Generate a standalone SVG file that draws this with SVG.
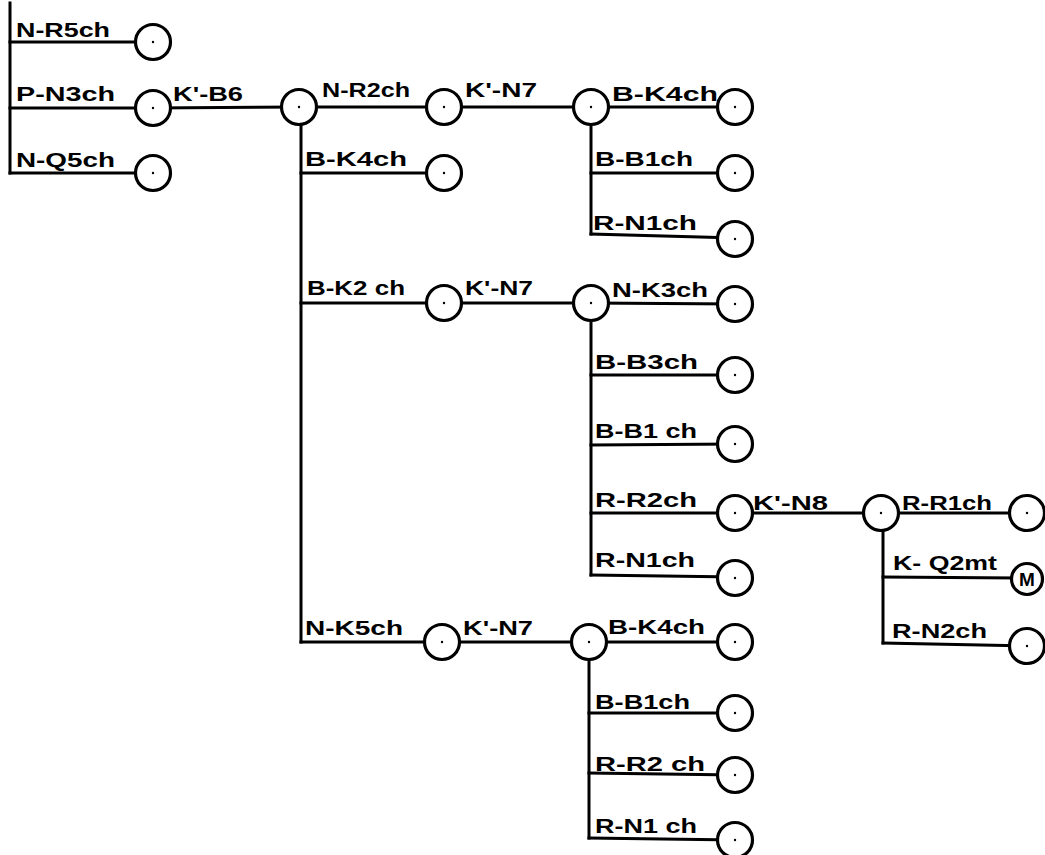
<svg xmlns="http://www.w3.org/2000/svg" xmlns:xlink="http://www.w3.org/1999/xlink" width="1045" height="855" viewBox="0 0 1045 855">
  <style>
    .ln { stroke: #000; stroke-width: 3; fill: none; stroke-linecap: square; }
    .nd { fill: #fff; stroke: #000; stroke-width: 3.2; }
    .dot { fill: #000; }
    .lb { font-family: "Liberation Sans", Arial, sans-serif; font-weight: bold; font-size: 20px; fill: #000; }
    .m { font-family: "Liberation Sans", Arial, sans-serif; font-weight: bold; font-size: 19px; fill: #000; text-anchor: middle; }
  </style>
  <defs>
    <!-- a position: open circle with a centre point -->
    <g id="pos">
      <circle class="nd" cx="0" cy="0" r="17.5"/>
      <circle class="dot" cx="0" cy="0" r="1.2"/>
    </g>
  </defs>
  <rect width="1045" height="855" fill="#fff"/>

  <!-- connectors: move lines -->
  <g id="connectors">
    <!-- root -->
    <line class="ln" x1="10" y1="3" x2="10" y2="173"/>
    <line class="ln" x1="10" y1="42" x2="153" y2="42"/>
    <line class="ln" x1="10" y1="108" x2="153" y2="108"/>
    <line class="ln" x1="10" y1="173" x2="153" y2="173"/>
    <line class="ln" x1="153" y1="108" x2="299" y2="107"/>
    <!-- after K'-B6 -->
    <line class="ln" x1="301" y1="107" x2="301" y2="642"/>
    <line class="ln" x1="299" y1="107" x2="444" y2="107"/>
    <line class="ln" x1="444" y1="107" x2="591" y2="107"/>
    <line class="ln" x1="301" y1="173" x2="444" y2="173"/>
    <line class="ln" x1="301" y1="303" x2="444" y2="303"/>
    <line class="ln" x1="444" y1="303" x2="591" y2="303"/>
    <line class="ln" x1="301" y1="642" x2="442" y2="642"/>
    <line class="ln" x1="442" y1="642" x2="589" y2="642"/>
    <!-- first K'-N7 -->
    <line class="ln" x1="591" y1="107" x2="591" y2="234"/>
    <line class="ln" x1="591" y1="107" x2="735" y2="107"/>
    <line class="ln" x1="591" y1="173" x2="735" y2="173"/>
    <line class="ln" x1="591" y1="234" x2="735" y2="238"/>
    <!-- second K'-N7 -->
    <line class="ln" x1="591" y1="303" x2="591" y2="575"/>
    <line class="ln" x1="591" y1="303" x2="735" y2="304"/>
    <line class="ln" x1="591" y1="375" x2="735" y2="375"/>
    <line class="ln" x1="591" y1="445" x2="735" y2="444"/>
    <line class="ln" x1="591" y1="513" x2="735" y2="513"/>
    <line class="ln" x1="591" y1="575" x2="735" y2="577"/>
    <line class="ln" x1="735" y1="513" x2="881" y2="513"/>
    <!-- K'-N8 -->
    <line class="ln" x1="883" y1="513" x2="883" y2="643"/>
    <line class="ln" x1="881" y1="513" x2="1028" y2="513"/>
    <line class="ln" x1="883" y1="577" x2="1027" y2="578"/>
    <line class="ln" x1="883" y1="643" x2="1028" y2="646"/>
    <!-- third K'-N7 -->
    <line class="ln" x1="589" y1="642" x2="589" y2="838"/>
    <line class="ln" x1="589" y1="642" x2="735" y2="642"/>
    <line class="ln" x1="589" y1="713" x2="735" y2="713"/>
    <line class="ln" x1="589" y1="773" x2="735" y2="775"/>
    <line class="ln" x1="589" y1="838" x2="735" y2="840"/>
  </g>

  <!-- move labels -->
  <g id="labels" class="lb">
    <text x="16" y="37" textLength="94" lengthAdjust="spacingAndGlyphs">N-R5ch</text>
    <text x="16" y="101" textLength="99" lengthAdjust="spacingAndGlyphs">P-N3ch</text>
    <text x="173" y="101" textLength="70" lengthAdjust="spacingAndGlyphs">K'-B6</text>
    <text x="16" y="167" textLength="99" lengthAdjust="spacingAndGlyphs">N-Q5ch</text>
    <text x="322" y="97" textLength="88" lengthAdjust="spacingAndGlyphs">N-R2ch</text>
    <text x="465" y="97" textLength="72" lengthAdjust="spacingAndGlyphs">K'-N7</text>
    <text x="305" y="166" textLength="102" lengthAdjust="spacingAndGlyphs">B-K4ch</text>
    <text x="307" y="295" textLength="98" lengthAdjust="spacingAndGlyphs">B-K2 ch</text>
    <text x="465" y="295" textLength="68" lengthAdjust="spacingAndGlyphs">K'-N7</text>
    <text x="305" y="635" textLength="98" lengthAdjust="spacingAndGlyphs">N-K5ch</text>
    <text x="463" y="635" textLength="70" lengthAdjust="spacingAndGlyphs">K'-N7</text>
    <text x="612" y="101" textLength="106" lengthAdjust="spacingAndGlyphs">B-K4ch</text>
    <text x="595" y="166" textLength="98" lengthAdjust="spacingAndGlyphs">B-B1ch</text>
    <text x="593" y="230" textLength="104" lengthAdjust="spacingAndGlyphs">R-N1ch</text>
    <text x="612" y="297" textLength="96" lengthAdjust="spacingAndGlyphs">N-K3ch</text>
    <text x="595" y="369" textLength="103" lengthAdjust="spacingAndGlyphs">B-B3ch</text>
    <text x="595" y="438" textLength="102" lengthAdjust="spacingAndGlyphs">B-B1 ch</text>
    <text x="595" y="507" textLength="102" lengthAdjust="spacingAndGlyphs">R-R2ch</text>
    <text x="595" y="567" textLength="100" lengthAdjust="spacingAndGlyphs">R-N1ch</text>
    <text x="753" y="510" textLength="75" lengthAdjust="spacingAndGlyphs">K'-N8</text>
    <text x="902" y="510" textLength="90" lengthAdjust="spacingAndGlyphs">R-R1ch</text>
    <text x="893" y="570" textLength="104" lengthAdjust="spacingAndGlyphs">K- Q2mt</text>
    <text x="892" y="638" textLength="95" lengthAdjust="spacingAndGlyphs">R-N2ch</text>
    <text x="608" y="634" textLength="97" lengthAdjust="spacingAndGlyphs">B-K4ch</text>
    <text x="595" y="709" textLength="95" lengthAdjust="spacingAndGlyphs">B-B1ch</text>
    <text x="595" y="771" textLength="110" lengthAdjust="spacingAndGlyphs">R-R2 ch</text>
    <text x="595" y="833" textLength="102" lengthAdjust="spacingAndGlyphs">R-N1 ch</text>
  </g>

  <!-- positions -->
  <use id="n-r5" href="#pos" x="153" y="42"/>
  <use id="p-n3" href="#pos" x="153" y="108"/>
  <use id="n-q5" href="#pos" x="153" y="173"/>
  <use id="k-b6" href="#pos" x="299" y="107"/>
  <use id="n-r2" href="#pos" x="444" y="107"/>
  <use id="b-k4-a" href="#pos" x="444" y="173"/>
  <use id="b-k2" href="#pos" x="444" y="303"/>
  <use id="n-k5" href="#pos" x="442" y="642"/>
  <use id="k-n7-a" href="#pos" x="591" y="107"/>
  <use id="k-n7-b" href="#pos" x="591" y="303"/>
  <use id="k-n7-c" href="#pos" x="589" y="642"/>
  <use id="b-k4-b" href="#pos" x="735" y="107"/>
  <use id="b-b1-a" href="#pos" x="735" y="173"/>
  <use id="r-n1-a" href="#pos" x="735" y="239"/>
  <use id="n-k3" href="#pos" x="735" y="304"/>
  <use id="b-b3" href="#pos" x="735" y="375"/>
  <use id="b-b1-b" href="#pos" x="735" y="444"/>
  <use id="r-r2-a" href="#pos" x="735" y="513"/>
  <use id="r-n1-b" href="#pos" x="735" y="578"/>
  <use id="k-n8" href="#pos" x="881" y="513"/>
  <use id="r-r1" href="#pos" x="1027" y="513"/>
  <g id="k-q2-mate">
    <circle class="nd" cx="1027" cy="579" r="15.5"/>
    <text class="m" x="1027" y="586">M</text>
  </g>
  <use id="r-n2" href="#pos" x="1027" y="646"/>
  <use id="b-k4-c" href="#pos" x="735" y="642"/>
  <use id="b-b1-c" href="#pos" x="735" y="713"/>
  <use id="r-r2-b" href="#pos" x="735" y="775"/>
  <use id="r-n1-c" href="#pos" x="735" y="840"/>
</svg>
